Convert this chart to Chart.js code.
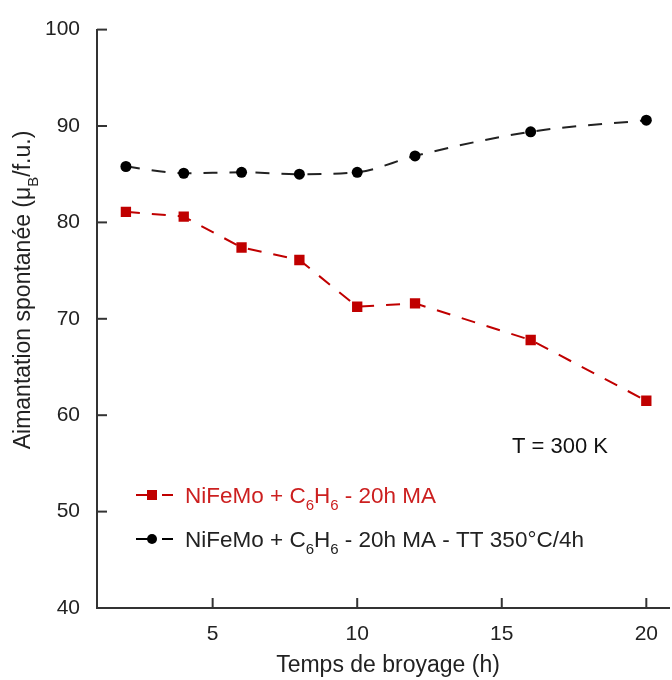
<!DOCTYPE html>
<html>
<head>
<meta charset="utf-8">
<script src="https://cdn.jsdelivr.net/npm/chart.js@4"></script>
<style>
  html, body { margin: 0; padding: 0; background: #fff; }
  canvas { display: block; }
</style>
</head>
<body>
<canvas id="chart" width="672" height="680"></canvas>
<script>
// milling time (h)
const millingHours = [2, 4, 6, 8, 10, 12, 16, 20];
// spontaneous magnetisation, as milled
const asMilled = [81.1, 80.6, 77.4, 76.1, 71.25, 71.6, 67.8, 61.5];
// spontaneous magnetisation, after heat treatment 350°C/4h
const annealed = [85.8, 85.1, 85.2, 85.0, 85.2, 86.9, 89.4, 90.6];
const xTicks = [5, 10, 15, 20];

const RED = "#c00000";
const BLACK = "#000000";
const FONT = "Liberation Sans, Arial, sans-serif";

const toPoints = (ys) => millingHours.map((x, i) => ({x, y: ys[i]}));

// draw a string with some subscript parts, return end x
function drawRich(ctx, parts, x, y, size) {
  parts.forEach(([txt, sub]) => {
    ctx.font = (sub ? Math.round(size * 0.65) : size) + "px " + FONT;
    ctx.fillText(txt, x, sub ? y + size * 0.33 : y);
    x += ctx.measureText(txt).width;
  });
  return x;
}

function richWidth(ctx, parts, size) {
  let w = 0;
  parts.forEach(([t, s]) => {
    ctx.font = (s ? Math.round(size * 0.65) : size) + "px " + FONT;
    w += ctx.measureText(t).width;
  });
  return w;
}

const decorations = {
  id: "decorations",
  afterDraw(chart) {
    const {ctx, scales: {x, y}, chartArea} = chart;
    ctx.save();
    // inner ticks
    ctx.strokeStyle = "#333";
    ctx.lineWidth = 2;
    y.ticks.forEach(t => {
      const py = y.getPixelForValue(t.value);
      ctx.beginPath();
      ctx.moveTo(chartArea.left, py);
      ctx.lineTo(chartArea.left + 10, py);
      ctx.stroke();
    });
    x.ticks.forEach(t => {
      const px = x.getPixelForValue(t.value);
      ctx.beginPath();
      ctx.moveTo(px, chartArea.bottom);
      ctx.lineTo(px, chartArea.bottom - 10);
      ctx.stroke();
    });

    ctx.textBaseline = "alphabetic";

    // x title
    ctx.fillStyle = "#222";
    ctx.font = "23px " + FONT;
    ctx.textAlign = "center";
    ctx.fillText("Temps de broyage (h)", 388, 672);

    // y title (rotated, with subscript B)
    ctx.save();
    ctx.translate(30, 290);
    ctx.rotate(-Math.PI / 2);
    ctx.textAlign = "left";
    const yParts = [["Aimantation spontanée (μ", false], ["B", true], ["/f.u.)", false]];
    drawRich(ctx, yParts, -richWidth(ctx, yParts, 23) / 2, 0, 23);
    ctx.restore();

    // annotation
    ctx.textAlign = "left";
    ctx.font = "22px " + FONT;
    ctx.fillStyle = "#111";
    ctx.fillText("T = 300 K", 512, 453);

    // legend
    const items = [
      {color: RED, text: "#cc1f1f", square: true, y: 495,
        parts: [["NiFeMo + C", false], ["6", true], ["H", false], ["6", true], [" - 20h MA", false]]},
      {color: BLACK, text: "#222", square: false, y: 539,
        parts: [["NiFeMo + C", false], ["6", true], ["H", false], ["6", true], [" - 20h MA - TT 350°C/4h", false]]}
    ];
    items.forEach(it => {
      ctx.strokeStyle = it.color;
      ctx.fillStyle = it.color;
      ctx.lineWidth = 2;
      ctx.beginPath();
      ctx.moveTo(136, it.y);
      ctx.lineTo(148, it.y);
      ctx.moveTo(162, it.y);
      ctx.lineTo(173, it.y);
      ctx.stroke();
      if (it.square) {
        ctx.fillRect(147, it.y - 5, 10, 10);
      } else {
        ctx.beginPath();
        ctx.arc(152, it.y, 5, 0, Math.PI * 2);
        ctx.fill();
      }
      ctx.fillStyle = it.text;
      ctx.textAlign = "left";
      drawRich(ctx, it.parts, 185, it.y + 8, 22.5);
    });
    ctx.restore();
  }
};

new Chart(document.getElementById("chart"), {
  type: "line",
  data: {
    datasets: [
      {
        label: "NiFeMo + C6H6 - 20h MA",
        data: toPoints(asMilled),
        borderColor: RED,
        backgroundColor: RED,
        borderWidth: 2,
        borderDash: [14, 12],
        pointStyle: "rect",
        pointRadius: 7.3,
        pointBorderWidth: 0,
        tension: 0
      },
      {
        label: "NiFeMo + C6H6 - 20h MA - TT 350°C/4h",
        data: toPoints(annealed),
        borderColor: "#222",
        backgroundColor: BLACK,
        borderWidth: 2,
        borderDash: [14, 12],
        pointStyle: "circle",
        pointRadius: 5.5,
        pointBorderWidth: 0,
        cubicInterpolationMode: "monotone"
      }
    ]
  },
  options: {
    responsive: false,
    animation: false,
    devicePixelRatio: 1,
    layout: {autoPadding: false, padding: {top: 28, left: 0, right: 0, bottom: 0}},
    plugins: {legend: {display: false}, tooltip: {enabled: false}},
    scales: {
      x: {
        type: "linear",
        min: 1,
        max: 20.8,
        afterBuildTicks: (scale) => { scale.ticks = xTicks.map(v => ({value: v})); },
        afterFit: (scale) => { scale.height = 72; },
        grid: {display: true, drawOnChartArea: false, drawTicks: false},
        border: {display: true, color: "#333", width: 2},
        ticks: {color: "#222", font: {family: FONT, size: 21}, padding: 14, maxRotation: 0}
      },
      y: {
        min: 40,
        max: 100,
        afterFit: (scale) => { scale.width = 97; },
        grid: {display: true, drawOnChartArea: false, drawTicks: false},
        border: {display: true, color: "#333", width: 2},
        ticks: {stepSize: 10, color: "#222", font: {family: FONT, size: 21}, padding: 17}
      }
    }
  },
  plugins: [decorations]
});
</script>
</body>
</html>
